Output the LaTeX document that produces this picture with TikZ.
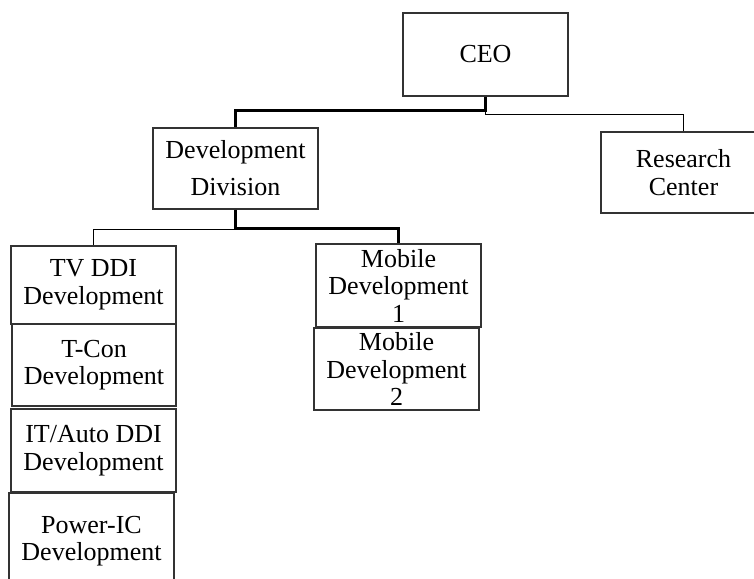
\documentclass[tikz,border=0pt]{standalone}
\usepackage{fontspec}
\setmainfont{Liberation Serif}
\begin{document}
\begin{tikzpicture}[x=1pt,y=-1pt,
  box/.style={draw=black!80, line width=1.1pt, fill=white, inner sep=0pt, align=center,
    font=\fontsize{26}{27.5}\selectfont},
  wide/.style={font=\fontsize{26}{37}\selectfont},
  strong/.style={line width=2.2pt, black},
  weak/.style={line width=1.1pt, black}]
\useasboundingbox (0,0) rectangle (754,578);
\clip (0,0) rectangle (754,578);
% boxes
\node[box, minimum width=165pt, minimum height=83pt] (ceo) at (485.5,54.5) {CEO};
\node[box, wide, minimum width=165pt, minimum height=81pt] (dev) at (235.5,168.5) {Development\\Division};
\node[box, minimum width=165pt, minimum height=81pt] (rc) at (683.5,172.5) {Research\\Center};
\node[box, minimum width=165pt, minimum height=78pt] (tv) at (93.5,285) {TV DDI\\Development};
\node[box, minimum width=164pt, minimum height=82pt] (tcon) at (94,365) {T-Con\\Development};
\node[box, minimum width=165pt, minimum height=83pt] (it) at (93.5,450.5) {IT/Auto DDI\\Development};
\node[box, minimum width=165pt, minimum height=96pt] (pw) at (91.5,541) {Power-IC\\Development};
\node[box, minimum width=165pt, minimum height=83pt] (m1) at (398.5,285.5) {Mobile\\Development\\1};
\node[box, minimum width=165pt, minimum height=82pt] (m2) at (396.5,369) {Mobile\\Development\\2};
% connectors
\draw[weak] (ceo.south) -- ++(0,18) -| (rc.north);
\draw[strong] (ceo.south) -- ++(0,14) -| (dev.north);
\draw[weak] (dev.south) -- ++(0,20) -| (tv.north);
\draw[strong] (dev.south) -- ++(0,19) -| (m1.north);
\end{tikzpicture}
\end{document}
